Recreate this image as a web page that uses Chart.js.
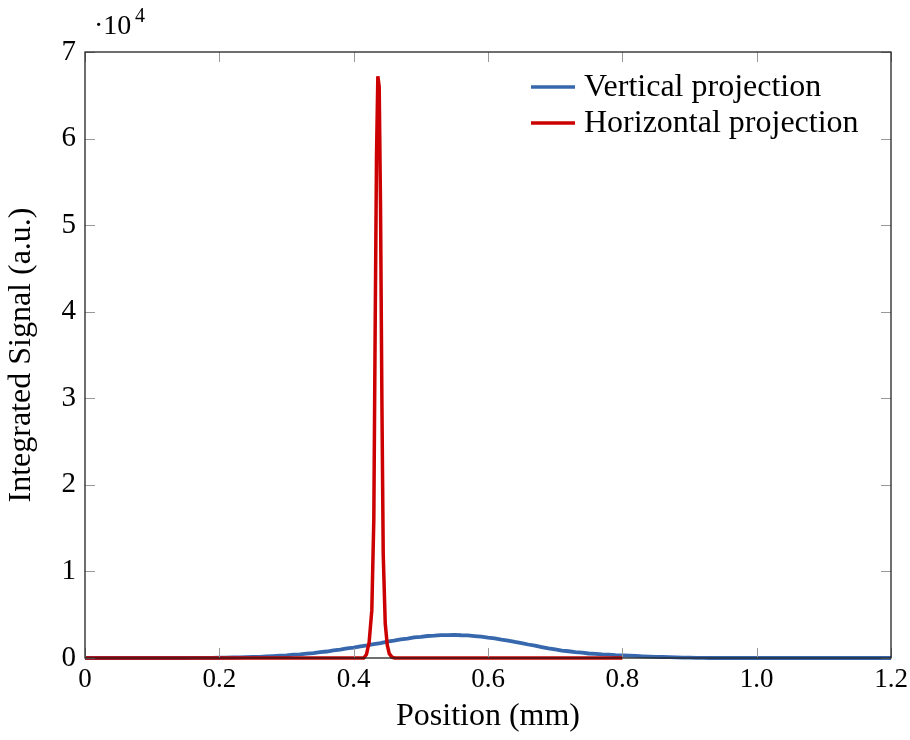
<!DOCTYPE html>
<html>
<head>
<meta charset="utf-8">
<script src="https://cdn.jsdelivr.net/npm/chart.js@4.4.0/dist/chart.umd.min.js"></script>
<style>
html, body { margin: 0; padding: 0; background: #fff; }
</style>
</head>
<body>
<canvas id="myChart" width="910" height="740"></canvas>
<script>
// data (signal in raw units, axis shows x 10^4)
const seriesNames = ["Vertical projection", "Horizontal projection"];

const vertX = [0, 0.05, 0.1, 0.15,
  0.16, 0.17, 0.18, 0.19, 0.20, 0.21, 0.22, 0.23, 0.24, 0.25,
  0.26, 0.27, 0.28, 0.29, 0.30, 0.31, 0.32, 0.33, 0.34, 0.35,
  0.36, 0.37, 0.38, 0.39, 0.40, 0.41, 0.42, 0.43, 0.44, 0.45,
  0.46, 0.47, 0.48, 0.49, 0.50, 0.51, 0.52, 0.53, 0.54, 0.55,
  0.56, 0.57, 0.58, 0.59, 0.60, 0.61, 0.62, 0.63, 0.64, 0.65,
  0.66, 0.67, 0.68, 0.69, 0.70, 0.71, 0.72, 0.73, 0.74, 0.75,
  0.76, 0.77, 0.78, 0.79, 0.80, 0.81, 0.82, 0.83, 0.84, 0.85,
  0.86, 0.87, 0.88, 0.89, 0.90, 0.91, 0.92, 0.93, 1.0, 1.1, 1.2];
const vertY = [0, 0, 0, 0,
  8, 12, 15, 25, 30, 45, 55, 75, 90, 120,
  140, 180, 215, 265, 305, 380, 425, 510, 575, 680,
  750, 870, 970, 1100, 1200, 1350, 1460, 1610, 1730, 1890,
  2000, 2150, 2240, 2370, 2440, 2540, 2580, 2650, 2650, 2670,
  2630, 2610, 2530, 2460, 2350, 2260, 2120, 2010, 1850, 1720,
  1560, 1420, 1260, 1110, 990, 860, 780, 670, 610, 520,
  480, 410, 385, 335, 310, 265, 235, 195, 170, 140,
  115, 95, 70, 50, 35, 20, 10, 0, 0, 0, 0];

const horizX = [0, 0.2, 0.415, 0.419, 0.423, 0.427, 0.430, 0.432, 0.434, 0.436, 0.438,
  0.440, 0.442, 0.444, 0.447, 0.450, 0.453, 0.457, 0.461, 0.6, 0.8];
const horizY = [0, 0, 0, 400, 1800, 5500, 16000, 38000, 58000, 67200, 66000,
  52000, 30000, 12000, 4000, 1500, 500, 100, 0, 0, 0];

const xTicks = [0, 0.2, 0.4, 0.6, 0.8, 1.0, 1.2];
const yTicks = [0, 10000, 20000, 30000, 40000, 50000, 60000, 70000];

const blue = "#3767ad";
const red = "#cc0000";
const serif = "'Liberation Serif', 'DejaVu Serif', serif";

const toPoints = (xs, ys) => xs.map((x, i) => ({ x: x, y: ys[i] }));

const extras = {
  id: "extras",
  afterDraw(chart) {
    const ctx = chart.ctx;
    const a = chart.chartArea;
    const sx = chart.scales.x;
    const sy = chart.scales.y;
    ctx.save();

    // inward ticks on all four sides
    ctx.strokeStyle = "#999";
    ctx.lineWidth = 1;
    ctx.beginPath();
    xTicks.forEach(v => {
      const px = Math.round(sx.getPixelForValue(v)) + 0.5;
      ctx.moveTo(px, a.bottom); ctx.lineTo(px, a.bottom - 10);
      ctx.moveTo(px, a.top); ctx.lineTo(px, a.top + 10);
    });
    yTicks.forEach(v => {
      const py = Math.round(sy.getPixelForValue(v)) + 0.5;
      ctx.moveTo(a.left, py); ctx.lineTo(a.left + 10, py);
      ctx.moveTo(a.right, py); ctx.lineTo(a.right - 10, py);
    });
    ctx.stroke();

    // frame
    ctx.strokeStyle = "#222";
    ctx.lineWidth = 1.3;
    ctx.strokeRect(a.left, a.top, a.right - a.left, a.bottom - a.top);

    // legend
    const items = [[seriesNames[0], blue], [seriesNames[1], red]];
    ctx.font = "32px " + serif;
    ctx.textBaseline = "middle";
    ctx.fillStyle = "#000";
    items.forEach((it, i) => {
      const y = 88 + i * 36;
      ctx.strokeStyle = it[1];
      ctx.lineWidth = 3.5;
      ctx.beginPath();
      ctx.moveTo(531, y - 1); ctx.lineTo(575, y - 1);
      ctx.stroke();
      ctx.fillText(it[0], 584, y);
    });

    // exponent label
    ctx.font = "28px " + serif;
    ctx.textBaseline = "alphabetic";
    ctx.fillText("\u00b710", 94, 34);
    ctx.font = "20px " + serif;
    ctx.fillText("4", 135, 22);
    ctx.restore();
  }
};

const myChart = new Chart(document.getElementById("myChart"), {
  type: "line",
  data: {
    datasets: [
      {
        label: seriesNames[0],
        data: toPoints(vertX, vertY),
        borderColor: blue,
        borderWidth: 3.8,
        pointRadius: 0,
        tension: 0,
        clip: false,
        order: 2
      },
      {
        label: seriesNames[1],
        data: toPoints(horizX, horizY),
        borderColor: red,
        borderWidth: 3.5,
        pointRadius: 0,
        tension: 0,
        clip: false,
        order: 1
      }
    ]
  },
  options: {
    responsive: false,
    animation: false,
    layout: { padding: { top: 52, right: 19, left: 0, bottom: 0 } },
    plugins: { legend: { display: false }, tooltip: { enabled: false } },
    scales: {
      x: {
        type: "linear",
        min: 0, max: 1.2,
        afterBuildTicks: s => { s.ticks = xTicks.map(v => ({ value: v })); },
        afterFit: s => { s.height = 82; s.paddingLeft = 0; s.paddingRight = 0; },
        grid: { display: false, drawTicks: false },
        border: { display: false },
        ticks: {
          padding: 6,
          color: "#000",
          font: { family: serif, size: 27 },
          maxRotation: 0,
          callback: v => v === 0 ? "0" : v.toFixed(1)
        },
        title: {
          display: true,
          text: "Position (mm)",
          color: "#000",
          font: { family: serif, size: 32 },
          padding: { top: 0, bottom: 4 }
        }
      },
      y: {
        min: 0, max: 70000,
        afterBuildTicks: s => { s.ticks = yTicks.map(v => ({ value: v })); },
        afterFit: s => { s.width = 85; s.paddingTop = 0; s.paddingBottom = 0; },
        grid: { display: false, drawTicks: false },
        border: { display: false },
        ticks: {
          padding: 9,
          color: "#000",
          font: { family: serif, size: 29 },
          callback: v => String(v / 10000)
        },
        title: {
          display: true,
          text: "Integrated Signal (a.u.)",
          color: "#000",
          font: { family: serif, size: 32 },
          padding: { top: 2, bottom: 0 }
        }
      }
    }
  },
  plugins: [extras]
});
</script>
</body>
</html>
